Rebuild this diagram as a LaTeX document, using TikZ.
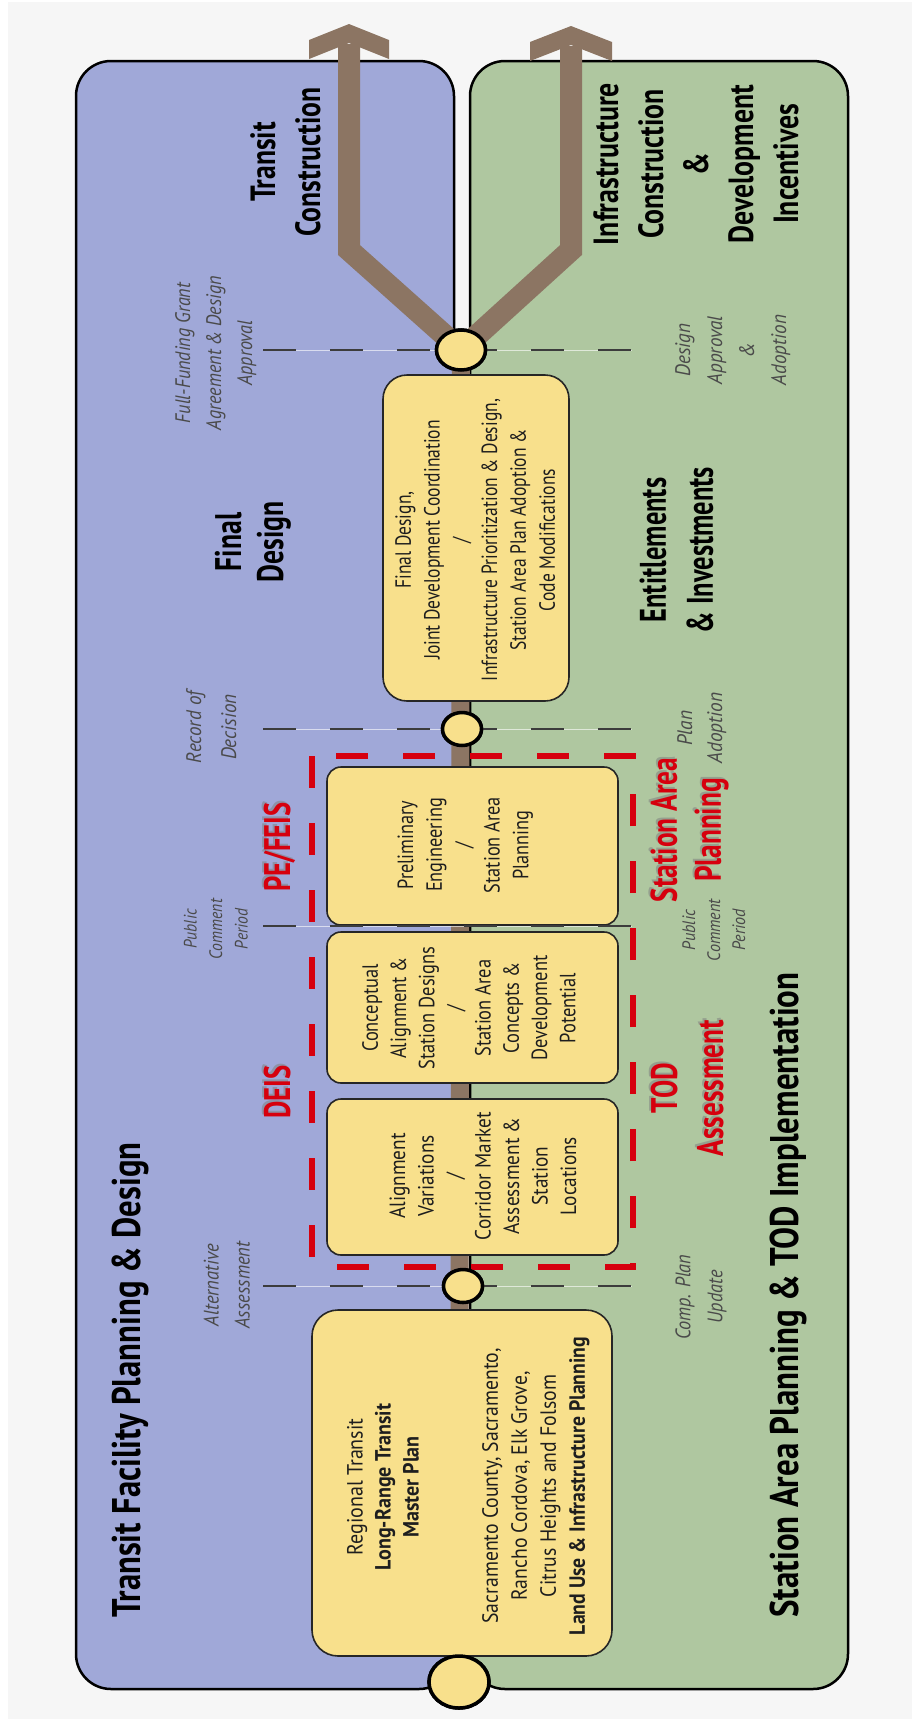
\documentclass[tikz,border=0pt]{standalone}
\usepackage{fontspec}
\usepackage{graphicx}
\setmainfont{PT Sans}
\usetikzlibrary{shapes.geometric}
\definecolor{bggray}{HTML}{F6F6F6}
\definecolor{panelblue}{HTML}{A0A8D8}
\definecolor{panelgreen}{HTML}{AFC7A0}
\definecolor{boxyellow}{HTML}{F8E08C}
\definecolor{trunkbrown}{HTML}{8C7563}
\definecolor{dashred}{HTML}{D6000E}
\definecolor{gatecol}{HTML}{3C3C3C}
\definecolor{labgray}{HTML}{4A4A4A}
\definecolor{boxtext}{HTML}{1E1E1E}
\newcommand\fitw[2]{\resizebox{#1pt}{\height}{#2}}
\newcommand\lns[1]{\begin{tabular}{@{}c@{}}#1\end{tabular}}
\begin{document}
\begin{tikzpicture}[x=1pt,y=-1pt,
  every node/.style={inner sep=0pt, outer sep=0pt},
  panel/.style={draw=black, line width=2.5pt, rounded corners=35pt},
  stage/.style={draw=black!85, line width=1.6pt, fill=boxyellow, rounded corners=14pt},
  milestone/.style={ellipse, draw=black, line width=3.5pt, fill=boxyellow, inner sep=0pt},
  trunk/.style={draw=trunkbrown, line width=18pt},
  branch/.style={draw=trunkbrown, line width=22pt, miter limit=10},
  gate/.style={draw=gatecol, line width=2.5pt, dash pattern=on 33pt off 34pt},
  gatefaint/.style={draw=white, line width=0.8pt, opacity=0.6},
  reddash/.style={draw=dashred, line width=6pt, dash pattern=on 32pt off 35pt},
  vtext/.style={rotate=90},
  title/.style={vtext, font=\bfseries\fontsize{40}{45}\selectfont, text=black},
  head/.style={vtext, font=\bfseries\fontsize{35}{45}\selectfont, text=black, align=center},
  redhead/.style={vtext, font=\bfseries\fontsize{37}{45}\selectfont, text=dashred},
  redshadow/.style={vtext, font=\bfseries\fontsize{37}{45}\selectfont, text=black!50, opacity=0.55},
  italab/.style={vtext, font=\itshape\fontsize{21}{31}\selectfont, text=labgray},
  boxlab/.style={vtext, font=\fontsize{22}{28.8}\selectfont, text=boxtext}
]
\useasboundingbox (0,0) rectangle (912,1719);
\fill[white] (0,0) rectangle (912,1719);
\fill[bggray] (8,2) rectangle (912,1719);

% panels
\draw[panel, fill=panelblue] (76,61) rectangle (454,1689);
\draw[panel, fill=panelgreen] (470,61) rectangle (848,1689);

% milestones (placed first so connectors can refer to them)
\node[milestone, minimum width=60pt, minimum height=52pt] (m1) at (459,1682) {};
\node[milestone, minimum width=39pt, minimum height=33pt] (m2) at (463,1286) {};
\node[milestone, minimum width=39pt, minimum height=33pt] (m3) at (462,729) {};
\node[milestone, minimum width=49pt, minimum height=40pt] (m4) at (461,350) {};

% trunk and branches
\coordinate (lk) at (349,250);
\coordinate (lt) at (349,44);
\coordinate (rk) at (571,250);
\coordinate (rt) at (571,46);
\draw[trunk] (m1.center) -- (m4.center);
\draw[branch] (m4.center) -- (lk) -- (lt);
\draw[branch] (m4.center) -- (rk) -- (rt);
\fill[trunkbrown] (309,40) -- (349,24) -- (389,40) -- (389,59) -- (349,43) -- (309,59) -- cycle;
\fill[trunkbrown] (530,42) -- (571,26) -- (612,42) -- (612,61) -- (571,45) -- (530,61) -- cycle;

% stage boxes
\node[stage, rounded corners=24pt, minimum width=186pt, minimum height=326pt] (fd) at (476,538) {};
\node[stage, minimum width=291pt, minimum height=158pt] (pe) at (472.5,846) {};
\node[stage, minimum width=291pt, minimum height=151pt] (ca) at (472.5,1007.5) {};
\node[stage, minimum width=291pt, minimum height=156pt] (av) at (472.5,1177) {};
\node[stage, rounded corners=26pt, minimum width=300pt, minimum height=346pt] (mp) at (462,1483) {};

% red dashed study area
\draw[reddash] (312,756) rectangle (633,1267);

% gate lines
\foreach \yy in {350,729,926,1286}{
  \draw[gatefaint] (263,\yy) -- (632,\yy);
  \draw[gate] (263,\yy) -- (632,\yy);
}

% milestones drawn again on top
\node[milestone, minimum width=60pt, minimum height=52pt] (m1t) at (m1) {};
\node[milestone, minimum width=39pt, minimum height=33pt] (m2t) at (m2) {};
\node[milestone, minimum width=39pt, minimum height=33pt] (m3t) at (m3) {};
\node[milestone, minimum width=49pt, minimum height=40pt] (m4t) at (m4) {};

% titles
\node[title, anchor=base] (tA) at (140,1380) {\fitw{475}{Transit Facility Planning \& Design}};
\node[title, anchor=base] (tB) at (798,1295) {\fitw{645}{Station Area Planning \& TOD Implementation}};

% headings
\node[head] (tc) at (288.5,162) {\fitw{149}{\lns{Transit\\Construction}}};
\node[head] (ic) at (699,164) {\fitw{162}{\lns{Infrastructure\\Construction\\\&\\Development\\Incentives}}};
\node[head, font=\bfseries\fontsize{37}{42}\selectfont] (fdh) at (253.6,542) {\fitw{81}{\lns{Final\\Design}}};
\node[head, font=\bfseries\fontsize{37}{47}\selectfont] (ei) at (680,550) {\fitw{166}{\lns{Entitlements\\\& Investments}}};

% red headings with shadow
\node[redshadow, anchor=base] (deiss) at (288,1090) {\fitw{53}{DEIS}};
\node[redhead, anchor=base] (deis) at (290,1092) {\fitw{53}{DEIS}};
\node[redshadow, anchor=base] (pefs) at (288,845) {\fitw{89}{PE/FEIS}};
\node[redhead, anchor=base] (pef) at (290,847) {\fitw{89}{PE/FEIS}};
\node[redshadow, font=\bfseries\fontsize{37}{46}\selectfont] (todas) at (689,1086) {\fitw{136}{\lns{TOD\\Assessment}}};
\node[redhead, font=\bfseries\fontsize{37}{46}\selectfont] (toda) at (691,1088) {\fitw{136}{\lns{TOD\\Assessment}}};
\node[redshadow, font=\bfseries\fontsize{37}{44}\selectfont] (sapls) at (688,828) {\fitw{144}{\lns{Station Area\\Planning}}};
\node[redhead, font=\bfseries\fontsize{37}{44}\selectfont] (sapl) at (690,830) {\fitw{144}{\lns{Station Area\\Planning}}};

% italic milestone labels
\node[italab] (ffg) at (215,353) {\fitw{154}{\lns{Full-Funding Grant\\Agreement \& Design\\Approval}}};
\node[italab, font=\itshape\fontsize{21}{32}\selectfont] (daa) at (731.6,350) {\fitw{70}{\lns{Design\\Approval\\\&\\Adoption}}};
\node[italab, font=\itshape\fontsize{21}{35}\selectfont] (rod) at (211.5,727) {\fitw{72}{\lns{Record of\\Decision}}};
\node[italab, font=\itshape\fontsize{21}{30}\selectfont] (pad) at (701,728) {\fitw{71}{\lns{Plan\\Adoption}}};
\node[italab, font=\itshape\fontsize{18}{25.5}\selectfont] (pcl) at (217,929) {\fitw{60}{\lns{Public\\Comment\\Period}}};
\node[italab, font=\itshape\fontsize{18}{25}\selectfont] (pcr) at (715,930) {\fitw{62}{\lns{Public\\Comment\\Period}}};
\node[italab] (alt) at (228,1285) {\fitw{87}{\lns{Alternative\\Assessment}}};
\node[italab, font=\itshape\fontsize{21}{32}\selectfont] (cpu) at (700,1297) {\fitw{85}{\lns{Comp. Plan\\Update}}};

% box texts
\node[boxlab] (fdt) at (477,540) {\fitw{282}{\lns{Final Design,\\Joint Development Coordination\\/\\Infrastructure Prioritization \& Design,\\Station Area Plan Adoption \&\\Code Modifications}}};
\node[boxlab] (pet) at (465,845) {\fitw{96}{\lns{Preliminary\\Engineering\\/\\Station Area\\Planning}}};
\node[boxlab, font=\fontsize{22}{28.2}\selectfont] (cat) at (471,1008) {\fitw{123}{\lns{Conceptual\\Alignment \&\\Station Designs\\/\\Station Area\\Concepts \&\\Development\\Potential}}};
\node[boxlab, font=\fontsize{22}{28.5}\selectfont] (avt) at (485,1176) {\fitw{128}{\lns{Alignment\\Variations\\/\\Corridor Market\\Assessment \&\\Station\\Locations}}};
\node[boxlab, font=\fontsize{22}{28}\selectfont] (mp1) at (385,1487) {\fitw{166}{\lns{Regional Transit\\\textbf{Long-Range Transit}\\\textbf{Master Plan}}}};
\node[boxlab, font=\fontsize{22}{29}\selectfont] (mp2) at (535.5,1486) {\fitw{298}{\lns{Sacramento County, Sacramento,\\Rancho Cordova, Elk Grove,\\Citrus Heights and Folsom\\\textbf{Land Use \& Infrastructure Planning}}}};
\end{tikzpicture}
\end{document}
